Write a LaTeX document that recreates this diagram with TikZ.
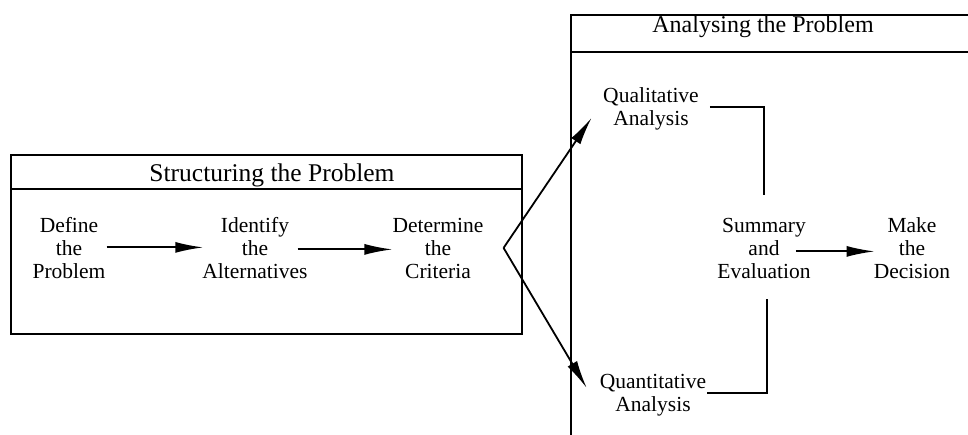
\documentclass[tikz,border=0pt]{standalone}
\usepackage{fontspec}
\setmainfont{Liberation Serif}
\usetikzlibrary{arrows.meta}
% centred multi-line label whose baseline is that of its first line
\newcommand\textstack[1]{\begin{tabular}[t]{@{}c@{}}#1\end{tabular}}
\begin{document}
\begin{tikzpicture}[x=1pt,y=-1pt,
  frame/.style={line width=1.8pt},
  wire/.style={line width=1.8pt},
  arr/.style={wire,-{Latex[length=28pt,width=11pt]}},
  item/.style={inner sep=0pt,anchor=base,font=\fontsize{21.5}{23}\selectfont},
  heading/.style={inner sep=0pt,anchor=base},
]
\useasboundingbox (0,0) rectangle (968,435);

% --- Structuring the Problem ---
\draw[frame] (11,155) rectangle (522,334);
\draw[frame] (11,189) -- (522,189);
\node[heading,font=\fontsize{25.5}{30}\selectfont] (stitle) at (272,182) {Structuring the Problem};

\node[item] (define)    at (69,233)  {\textstack{Define\\the\\Problem}};
\node[item] (identify)  at (255,233) {\textstack{Identify\\the\\Alternatives}};
\node[item] (determine) at (438,233) {\textstack{Determine\\the\\Criteria}};

\draw[arr] ([xshift=1pt,yshift=4pt]define.east) -- ([xshift=1pt,yshift=4pt]identify.west);
\draw[arr] ([xshift=-10pt,yshift=2pt]identify.east) -- ([xshift=0pt,yshift=2pt]determine.west);

% --- Analysing the Problem (open towards the right and bottom) ---
\draw[frame] (571,435) -- (571,15) -- (968,15);
\draw[frame] (571,52) -- (968,52);
\node[heading,font=\fontsize{24}{29}\selectfont] (atitle) at (763,33) {Analysing the Problem};

\node[item] (qual)     at (651,103) {\textstack{Qualitative\\Analysis}};
\node[item] (quant)    at (653,388) {\textstack{Quantitative\\Analysis}};
\node[item] (summary)  at (764,233) {\textstack{Summary\\and\\Evaluation}};
\node[item] (decision) at (912,233) {\textstack{Make\\the\\Decision}};

% fork from the criteria into both kinds of analysis
\coordinate (fork) at ([xshift=20pt,yshift=3.5pt]determine.east);
\draw[arr] (fork) -- ([xshift=-11.5pt,yshift=-8pt]qual.west);
\draw[arr] (fork) -- ([xshift=-13pt,yshift=7pt]quant.west);

% both analyses feed the summary
\draw[wire] ([xshift=11pt,yshift=3pt]qual.east) -| ([yshift=22pt]summary.north);
\draw[wire] ([xshift=3pt,yshift=-13pt]summary.south) |- ([xshift=1pt,yshift=2pt]quant.east);

\draw[arr] ([xshift=-15pt]summary.east) -- ([xshift=1pt]decision.west);
\end{tikzpicture}
\end{document}
